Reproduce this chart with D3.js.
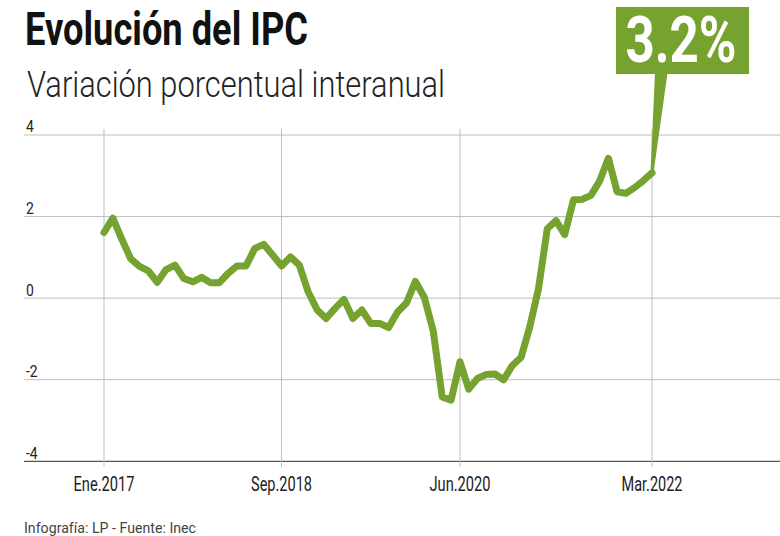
<!DOCTYPE html>
<html><head><meta charset="utf-8">
<script src="https://cdn.jsdelivr.net/npm/d3@7/dist/d3.min.js"></script>
<style>body{margin:0;background:#fff}svg{display:block}</style>
</head><body>
<script>
// ---- data ----
const monthNames = ["Ene","Feb","Mar","Abr","May","Jun","Jul","Ago","Sep","Oct","Nov","Dic"];
const years = [2017, 2018, 2019, 2020, 2021, 2022];
const categories = [];
years.forEach(y => monthNames.forEach(m => categories.push(m + "." + y)));
categories.splice(categories.indexOf("Mar.2022") + 1);

const values = [
  1.61, 1.96, 1.45, 0.97, 0.78, 0.67, 0.39, 0.70, 0.81, 0.48, 0.40, 0.51, 0.38, 0.38, 0.61, 0.79, 0.79, 1.22, 1.32, 1.06, 0.79,
  1.01, 0.81, 0.15, -0.29, -0.50, -0.25, -0.03, -0.50, -0.29, -0.62, -0.62, -0.72, -0.34, -0.12, 0.41, 0.02, -0.80, -2.42, -2.50, -1.56,
  -2.23, -1.97, -1.87, -1.86, -2.00, -1.65, -1.45, -0.70, 0.24, 1.70, 1.90, 1.56, 2.41, 2.42, 2.52, 2.87, 3.43, 2.61, 2.57, 2.71, 2.88, 3.07
];
const yTicks = [-4, -2, 0, 2, 4];
const xTickLabels = ["Ene.2017", "Sep.2018", "Jun.2020", "Mar.2022"];
const xTickIndex = [0, 20, 40, 62];
const title = "Evolución del IPC";
const subtitle = "Variación porcentual interanual";
const source = "Infografía: LP - Fuente: Inec";
const calloutText = "3.2%";

// ---- chart ----
const W = 780, H = 536;
const green = "#76a22f";
const svg = d3.select("body").append("svg").attr("width", W).attr("height", H);

const x = d3.scaleLinear().domain(xTickIndex).range([104, 281.5, 460, 652]);
const y = d3.scaleLinear().domain([-4, 4]).range([461.3, 135]);

// title & subtitle
svg.append("text").text(title)
  .attr("x", 25).attr("y", 45)
  .attr("font-family", "Roboto, sans-serif").attr("font-weight", 700)
  .attr("font-size", 46).attr("fill", "#111")
  .attr("textLength", 283).attr("lengthAdjust", "spacingAndGlyphs");

svg.append("text").text(subtitle)
  .attr("x", 27).attr("y", 97)
  .attr("font-family", "Roboto, sans-serif").attr("font-weight", 300)
  .attr("font-size", 36).attr("fill", "#222")
  .attr("textLength", 418).attr("lengthAdjust", "spacingAndGlyphs");

// horizontal gridlines
svg.append("g").selectAll("line").data(yTicks).join("line")
  .attr("x1", 24).attr("x2", W)
  .attr("y1", d => y(d)).attr("y2", d => y(d))
  .attr("stroke", d => d === -4 ? "#555" : "#bdbdbd")
  .attr("stroke-width", d => d === -4 ? 1.3 : 1);

// y labels
svg.append("g").selectAll("text").data(yTicks).join("text")
  .text(d => d)
  .attr("x", 26).attr("y", d => y(d) - 2.5)
  .attr("font-family", "Roboto, sans-serif").attr("font-size", 17)
  .attr("fill", "#222")
  .attr("transform", `translate(26,0) scale(0.82,1) translate(-26,0)`);

// vertical gridlines + x labels
svg.append("g").selectAll("line").data(xTickIndex).join("line")
  .attr("x1", d => x(d)).attr("x2", d => x(d))
  .attr("y1", 129).attr("y2", 467)
  .attr("stroke", "#bdbdbd").attr("stroke-width", 1);

svg.append("g").selectAll("text").data(xTickLabels).join("text")
  .text(d => d)
  .attr("x", (d, i) => x(xTickIndex[i])).attr("y", 491)
  .attr("text-anchor", "middle")
  .attr("font-family", "Roboto, sans-serif").attr("font-size", 21)
  .attr("fill", "#222")
  .attr("textLength", 61).attr("lengthAdjust", "spacingAndGlyphs");

// line
const line = d3.line().x((d, i) => x(i)).y(d => y(d));
svg.append("path").datum(values)
  .attr("d", line)
  .attr("fill", "none").attr("stroke", green)
  .attr("stroke-width", 7).attr("stroke-linejoin", "round").attr("stroke-linecap", "round");

// callout
const lastX = x(values.length - 1);
const lastY = y(values[values.length - 1]);
svg.append("path")
  .attr("d", `M655,73 L667.5,73 L${lastX + 1.5},${lastY} L${lastX - 1.5},${lastY} Z`)
  .attr("fill", green);
svg.append("rect").attr("x", 616).attr("y", 7).attr("width", 133).attr("height", 67).attr("fill", green);
svg.append("text").text(calloutText)
  .attr("x", 681).attr("y", 62).attr("text-anchor", "middle")
  .attr("font-family", "Roboto, sans-serif").attr("font-weight", 700)
  .attr("font-size", 64).attr("fill", "#fff")
  .attr("textLength", 111).attr("lengthAdjust", "spacingAndGlyphs");

// source
svg.append("text").text(source)
  .attr("x", 24).attr("y", 533)
  .attr("font-family", "Roboto, sans-serif").attr("font-size", 15)
  .attr("fill", "#444")
  .attr("textLength", 172).attr("lengthAdjust", "spacingAndGlyphs");
</script>
</body></html>
